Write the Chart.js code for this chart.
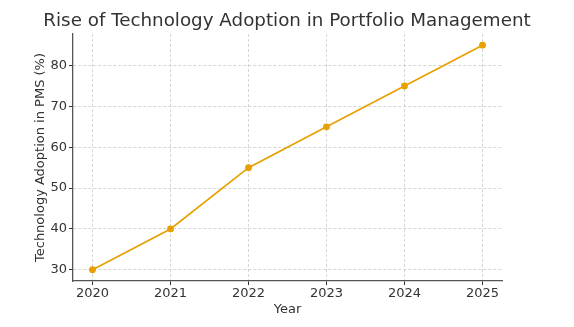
<!DOCTYPE html>
<html>
<head>
<meta charset="utf-8">
<script src="https://cdn.jsdelivr.net/npm/chart.js@4"></script>
<style>
  html, body { margin: 0; padding: 0; background: #fff; }
  #wrap { width: 574px; height: 327px; }
</style>
</head>
<body>
<div id="wrap"><canvas id="grafica" width="574" height="327"></canvas></div>
<script>
const anios = [2020, 2021, 2022, 2023, 2024, 2025];
const adopcion = [30, 40, 55, 65, 75, 85];
const ticksY = [30, 40, 50, 60, 70, 80];

const colorLinea = '#e8a000';
const colorTexto = '#333333';
const colorRejilla = 'rgba(200,200,200,0.75)';
const fuente = 'DejaVu Sans';

const ctx = document.getElementById('grafica').getContext('2d');

new Chart(ctx, {
    type: 'line',
    data: {
        datasets: [{
            label: 'Technology Adoption',
            data: anios.map((a, i) => ({ x: a, y: adopcion[i] })),
            borderColor: colorLinea,
            backgroundColor: colorLinea,
            borderWidth: 1.7,
            pointRadius: 3.4,
            pointBorderWidth: 0,
            tension: 0
        }]
    },
    options: {
        responsive: false,
        animation: false,
        layout: { padding: 0 },
        plugins: {
            legend: { display: false },
            tooltip: { enabled: false },
            title: {
                display: true,
                text: 'Rise of Technology Adoption in Portfolio Management',
                color: colorTexto,
                font: { family: fuente, size: 18.3, weight: 'normal', lineHeight: 1.2 },
                padding: { top: 10, bottom: 2 }
            }
        },
        scales: {
            x: {
                type: 'linear',
                min: 2019.75,
                max: 2025.25,
                afterBuildTicks: (scale) => { scale.ticks = anios.map(v => ({ value: v })); },
                afterFit: (scale) => { scale.height = 46; },
                ticks: {
                    color: colorTexto,
                    font: { family: fuente, size: 13 },
                    padding: 1,
                    maxRotation: 0,
                    callback: (v) => String(v)
                },
                grid: {
                    color: colorRejilla,
                    lineWidth: 1,
                    tickLength: 4,
                    tickColor: colorTexto,
                    tickBorderDash: [],
                    tickWidth: 1
                },
                border: { display: true, color: '#555555', width: 1.3, dash: [3, 2] },
                title: {
                    display: true,
                    text: 'Year',
                    color: colorTexto,
                    font: { family: fuente, size: 13 },
                    padding: { top: 0, bottom: 10 }
                }
            },
            y: {
                type: 'linear',
                min: 27.25,
                max: 87.75,
                afterBuildTicks: (scale) => { scale.ticks = ticksY.map(v => ({ value: v })); },
                afterFit: (scale) => { scale.width = 73; },
                ticks: {
                    color: colorTexto,
                    font: { family: fuente, size: 13 },
                    padding: 2
                },
                grid: {
                    color: colorRejilla,
                    lineWidth: 1,
                    tickLength: 4,
                    tickColor: colorTexto,
                    tickBorderDash: [],
                    tickWidth: 1
                },
                border: { display: true, color: '#555555', width: 1.3, dash: [3, 2] },
                title: {
                    display: true,
                    text: 'Technology Adoption in PMS (%)',
                    color: colorTexto,
                    font: { family: fuente, size: 13 },
                    padding: { top: 33, bottom: 0 }
                }
            },
            // eje vacio a la derecha para dejar el margen y centrar el titulo
            derecha: {
                type: 'linear',
                position: 'right',
                min: 0,
                max: 1,
                afterFit: (scale) => { scale.width = 72; },
                ticks: { display: false },
                grid: { display: false, drawOnChartArea: false },
                border: { display: false }
            }
        }
    }
});
</script>
</body>
</html>
